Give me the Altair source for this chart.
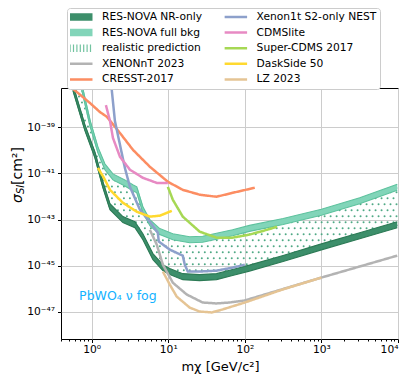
import numpy as np
import pandas as pd
import altair as alt

W, H = 337, 251
LOG_X = [-0.40, 4.0]
LOG_Y = [-48.17, -37.30]

# ---------------- data ----------------
# all values: log10(mass [GeV/c^2]) and log10(sigma_SI [cm^2])
NR_LOGM = [-0.243, -0.087, 0.043, 0.147, 0.239, 0.408, 0.565, 0.669, 0.80, 0.93, 1.02, 1.19, 1.41, 1.63, 1.84, 2.06, 2.5, 3.0, 3.5, 3.99]
NR_LOGS = [-37.30, -39.03, -40.20, -41.49, -42.44, -43.00, -43.22, -43.74, -44.60, -45.08, -45.25, -45.47, -45.51, -45.47, -45.29, -45.10, -44.68, -44.18, -43.70, -43.22]

FULL_LOGM = [-0.126, -0.022, 0.082, 0.173, 0.278, 0.434, 0.538, 0.59, 0.669, 0.76, 0.89, 1.06, 1.28, 1.45, 1.63, 1.84, 2.06, 2.5, 3.0, 3.5, 3.99]
FULL_LOGS = [-37.30, -38.81, -39.98, -40.71, -41.15, -41.41, -41.62, -41.71, -42.57, -43.13, -43.52, -43.74, -43.87, -43.85, -43.72, -43.57, -43.38, -43.08, -42.68, -42.18, -41.60]

CRESST_LOGM = [-0.256, -0.022, 0.108, 0.20, 0.37, 0.54, 0.76, 0.995, 1.19, 1.41, 1.63, 1.84, 2.13]
CRESST_LOGS = [-37.30, -37.95, -38.34, -38.55, -39.25, -39.98, -40.71, -41.36, -41.71, -41.92, -42.01, -41.84, -41.62]

XE1T_LOGM = [0.26, 0.304, 0.37, 0.434, 0.50, 0.63, 0.76, 0.864, 0.877, 1.02, 1.19, 1.216, 1.256, 1.41, 1.63, 1.84, 2.0]
XE1T_LOGS = [-37.30, -38.73, -39.76, -40.76, -41.58, -42.57, -43.09, -43.57, -43.95, -44.30, -44.56, -44.95, -45.25, -45.25, -45.21, -45.08, -44.95]

CDMSLITE_LOGM = [0.186, 0.24, 0.278, 0.37, 0.50, 0.669, 0.851, 0.995]
CDMSLITE_LOGS = [-38.04, -38.73, -39.46, -40.28, -40.84, -41.19, -41.41, -41.41]

SCDMS_LOGM = [0.995, 1.06, 1.19, 1.41, 1.63, 1.84, 2.06, 2.29, 2.42]
SCDMS_LOGS = [-41.58, -42.14, -42.87, -43.52, -43.78, -43.78, -43.65, -43.44, -43.31]

DS50_LOGM = [0.082, 0.16, 0.239, 0.408, 0.59, 0.76, 0.89, 1.047]
DS50_LOGS = [-40.76, -41.19, -41.71, -42.27, -42.66, -42.87, -42.83, -42.62]

XENT_LOGM = [0.76, 0.851, 0.93, 1.06, 1.24, 1.45, 1.63, 1.80, 2.0, 3.0, 3.99]
XENT_LOGS = [-43.44, -44.09, -44.95, -45.73, -46.24, -46.59, -46.63, -46.59, -46.50, -45.51, -44.56]

LZ_LOGM = [0.93, 1.02, 1.11, 1.28, 1.41, 1.57, 1.71, 2.0, 2.49, 3.0]
LZ_LOGS = [-45.25, -45.81, -46.33, -46.81, -46.98, -47.02, -46.89, -46.59, -46.03, -45.51]

FOG_LOGM = [-0.40, -0.244, -0.022, 0.108, 0.278, 0.46, 0.695, 0.786, 0.89, 0.956, 1.11, 1.28, 1.41, 1.5, 3.55, 3.63, 3.99]
FOG_LOGS = [-44.82, -44.52, -44.65, -44.52, -44.39, -44.21, -44.08, -44.30, -44.95, -45.46, -46.89, -47.62, -48.17, -49.0, -49.0, -48.17, -47.78]

# half-thickness of the RES-NOVA bands (decades)
BAND_HALF = 0.13

FOG_LABEL = "PbWO\u2084 \u03bd fog"
FOG_LABEL_LOGM = 0.343
FOG_LABEL_LOGS = -46.29

# legend entries (matplotlib order; the legend fills column by column)
SERIES = ["RES-NOVA NR-only", "RES-NOVA full bkg", "realistic prediction", "XENONnT 2023", "CRESST-2017",
          "Xenon1t S2-only NEST", "CDMSlite", "Super-CDMS 2017", "DaskSide 50", "LZ 2023"]
COLORS = ["#3d8f6b", "#82d5b9", "#72c3a0", "#b3b3b3", "#fc8d62",
          "#8da0cb", "#e78ac3", "#a6d854", "#ffd92f", "#e5c494"]
WIDTHS = [7.5, 7.5, 7.5, 2.5, 2.5, 2.5, 2.5, 2.5, 2.5, 2.5]
DASHES = [[1, 0], [1, 0], [1.2, 2.2], [1, 0], [1, 0], [1, 0], [1, 0], [1, 0], [1, 0], [1, 0]]
EDGE_COLORS = ["#2c7a55", "#5ec29e"]

X_MAJOR = [1, 10, 100, 1000, 10000]
X_LABELS = ["10\u2070", "10\u00b9", "10\u00b2", "10\u00b3", "10\u2074"]
Y_MAJOR = [1e-39, 1e-41, 1e-43, 1e-45, 1e-47]
Y_LABELS = ["10\u207b\u00b3\u2079", "10\u207b\u2074\u00b9", "10\u207b\u2074\u00b3", "10\u207b\u2074\u2075", "10\u207b\u2074\u2077"]

X_TITLE = "m\u03c7 [GeV/c\u00b2]"
Y_TITLE_PARTS = ["\u03c3", "SI", " [cm\u00b2]"]

# ---------------- styling ----------------
FONT = "DejaVu Sans"
DOT_COLOR = "#4fa985"
FOG_FILL = "#b9ddf2"
FOG_TEXT = "#12b2ff"

LEG = alt.Legend(title=None, orient="none", legendX=6, legendY=-80, columns=2,
                 symbolType="M-2.3,0H2.3", symbolSize=100, clipHeight=12,
                 rowPadding=3.6, columnPadding=21.6, symbolOffset=2, labelOffset=12,
                 labelFont=FONT, labelFontSize=10.7, labelColor="black", labelLimit=200,
                 strokeColor="#cccccc", fillColor="white", padding=3, cornerRadius=3)

COLOR_ENC = alt.Color("series:N", scale=alt.Scale(domain=SERIES, range=COLORS), legend=LEG)
SW_ENC = alt.StrokeWidth("series:N", scale=alt.Scale(type="ordinal", domain=SERIES, range=WIDTHS), legend=LEG)
DASH_ENC = alt.StrokeDash("series:N", scale=alt.Scale(domain=SERIES, range=DASHES), legend=LEG)

major_test = "abs(log(datum.value)/LN10 - round(log(datum.value)/LN10)) < 0.001"
e_expr = "round(log(datum.value)/LN10)"


def label_expr(values, labels):
    s = "''"
    for v, l in zip(reversed(values), reversed(labels)):
        s = f"({e_expr} == {int(round(np.log10(v)))} ? '{l}' : {s})"
    return f"({major_test}) ? {s} : ''"


x_minor = [m * 10 ** d for d in range(-1, 4) for m in range(2, 10) if 0.4 <= m * 10 ** d <= 1e4]
X_AXIS = alt.Axis(values=sorted(set(X_MAJOR + x_minor)), labelExpr=label_expr(X_MAJOR, X_LABELS),
                  title=X_TITLE, titleFontSize=13, titleFont=FONT, titleFontWeight="normal",
                  titleX=159, titleY=21, titleColor="black",
                  tickSize={"condition": {"test": major_test, "value": 3.5}, "value": 2},
                  gridOpacity={"condition": {"test": major_test, "value": 1}, "value": 0},
                  labelPadding=2)
Y_AXIS = alt.Axis(values=Y_MAJOR, labelExpr=label_expr(Y_MAJOR, Y_LABELS), title=None, tickSize=3.5,
                  labelPadding=3)

X_SCALE = alt.Scale(type="log", domain=[10 ** LOG_X[0], 10 ** LOG_X[1]], nice=False)
Y_SCALE = alt.Scale(type="log", domain=[10 ** LOG_Y[0], 10 ** LOG_Y[1]], nice=False)
X_ENC = alt.X("m:Q", scale=X_SCALE, axis=X_AXIS)
Y_ENC = alt.Y("s:Q", scale=Y_SCALE, axis=Y_AXIS)


def frame(logm, logs, name=None):
    logs = np.array(logs, dtype=float)
    d = pd.DataFrame({"m": 10 ** np.array(logm, dtype=float), "s": 10 ** logs,
                      "lo": 10 ** (logs - BAND_HALF), "hi": 10 ** (logs + BAND_HALF),
                      "i": np.arange(len(logs))})
    if name is not None:
        d["series"] = name
    return d


def line_layer(name, logm, logs):
    return alt.Chart(frame(logm, logs, name)).mark_line(clip=True).encode(
        x=X_ENC, y=Y_ENC, color=COLOR_ENC, strokeWidth=SW_ENC, strokeDash=DASH_ENC, order="i:Q")


def band_layers(name, logm, logs, color, edge):
    base = alt.Chart(frame(logm, logs, name))
    area = base.mark_area(clip=True, fill=color, fillOpacity=1, orient="vertical").encode(
        x=X_ENC, y=alt.Y("hi:Q", scale=Y_SCALE, axis=Y_AXIS), y2=alt.Y2("lo"))
    core = base.mark_line(clip=True, color=color, strokeWidth=2.5).encode(x=X_ENC, y=Y_ENC, order="i:Q")
    e1 = base.mark_line(clip=True, color=edge, strokeWidth=1.1).encode(
        x=X_ENC, y=alt.Y("lo:Q", scale=Y_SCALE, axis=Y_AXIS), order="i:Q")
    e2 = base.mark_line(clip=True, color=edge, strokeWidth=1.1).encode(
        x=X_ENC, y=alt.Y("hi:Q", scale=Y_SCALE, axis=Y_AXIS), order="i:Q")
    return [area, core, e1, e2]


# neutrino fog
fog = alt.Chart(frame(FOG_LOGM, FOG_LOGS)).mark_area(clip=True, color=FOG_FILL, opacity=0.5).encode(
    x=X_ENC, y=Y_ENC, y2=alt.value(H), order="i:Q")

# dotted "realistic prediction" texture between the two bands
dx, dy = 6 / 76.7, 6 / 23.15
rows = []
for r, yv in enumerate(np.arange(LOG_Y[0] + dy / 2, LOG_Y[1], dy)):
    xs = np.arange(LOG_X[0] + (dx / 2 if r % 2 else 0.0), LOG_X[1], dx)
    lo = np.interp(xs, NR_LOGM, NR_LOGS)
    hi = np.interp(xs, FULL_LOGM, FULL_LOGS)
    for xv in xs[(yv > lo) & (yv < hi)]:
        rows.append({"m": 10 ** xv, "s": 10 ** yv})
dots = alt.Chart(pd.DataFrame(rows)).mark_circle(size=4, color=DOT_COLOR, opacity=1, clip=True).encode(
    x=X_ENC, y=Y_ENC)

bands = (band_layers(SERIES[1], FULL_LOGM, FULL_LOGS, COLORS[1], EDGE_COLORS[1])
         + band_layers(SERIES[0], NR_LOGM, NR_LOGS, COLORS[0], EDGE_COLORS[0]))
curves = [
    line_layer("XENONnT 2023", XENT_LOGM, XENT_LOGS),
    line_layer("CRESST-2017", CRESST_LOGM, CRESST_LOGS),
    line_layer("Xenon1t S2-only NEST", XE1T_LOGM, XE1T_LOGS),
    line_layer("CDMSlite", CDMSLITE_LOGM, CDMSLITE_LOGS),
    line_layer("Super-CDMS 2017", SCDMS_LOGM, SCDMS_LOGS),
    line_layer("DaskSide 50", DS50_LOGM, DS50_LOGS),
    line_layer("LZ 2023", LZ_LOGM, LZ_LOGS),
]

fog_text = alt.Chart(pd.DataFrame({"m": [10 ** FOG_LABEL_LOGM], "s": [10 ** FOG_LABEL_LOGS], "t": [FOG_LABEL]})).mark_text(
    font=FONT, fontSize=12.5, color=FOG_TEXT, align="center", baseline="middle").encode(x=X_ENC, y=Y_ENC, text="t:N")

one = pd.DataFrame({"k": [0]})
ytitle = [
    alt.Chart(one).mark_text(font=FONT, fontSize=14, fontStyle="italic", angle=270, align="left", baseline="middle",
                             color="black").encode(x=alt.value(-43), y=alt.value(115), text=alt.value(Y_TITLE_PARTS[0])),
    alt.Chart(one).mark_text(font=FONT, fontSize=10, fontStyle="italic", angle=270, align="left", baseline="middle",
                             color="black").encode(x=alt.value(-40), y=alt.value(106), text=alt.value(Y_TITLE_PARTS[1])),
    alt.Chart(one).mark_text(font=FONT, fontSize=14, angle=270, align="left", baseline="middle",
                             color="black").encode(x=alt.value(-43), y=alt.value(97), text=alt.value(Y_TITLE_PARTS[2])),
]

chart = alt.layer(fog, dots, *bands, *curves, fog_text, *ytitle).properties(
    width=W, height=H,
    padding={"left": 53, "top": 80, "right": 9, "bottom": 36},
    autosize=alt.AutoSizeParams(type="none"),
).configure(font=FONT).configure_view(stroke="black", strokeWidth=1).configure_axis(
    domain=False, grid=True, gridColor="#cccccc", gridWidth=1, tickColor="black", tickWidth=1,
    labelFont=FONT, labelFontSize=10.7, labelColor="black",
)

chart.save("out.html", embed_options={"renderer": "svg", "actions": False})
